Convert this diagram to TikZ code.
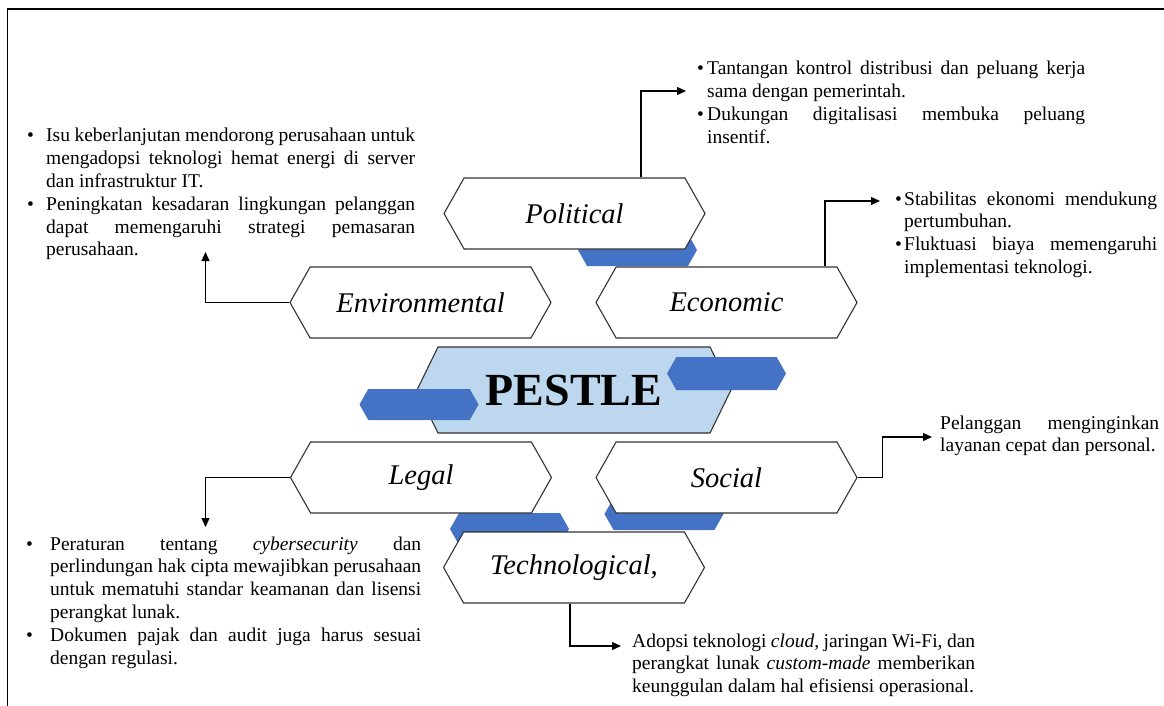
\documentclass[tikz,border=0pt]{standalone}
\usepackage{fontspec}
\setmainfont{Liberation Serif}
\usepackage{tikz}
\usetikzlibrary{shapes.symbols,arrows.meta}

\definecolor{pestlefill}{HTML}{BDD7EE}
\definecolor{accentblue}{HTML}{4472C4}

\newcommand{\bitem}[2]{\noindent\hangindent=#1\makebox[#1][l]{\textbullet}#2\par}

\begin{document}
\begin{tikzpicture}[x=1pt,y=-1pt,
    hex_node/.style={signal,signal to=west and east,signal pointer angle=121,draw=black!80,line width=1.1pt,fill=white,minimum width=261,minimum height=71,inner sep=0pt,font=\fontsize{28.5}{30}\selectfont\itshape},
    blue_hex/.style={signal,signal to=west and east,signal pointer angle=121,fill=accentblue,minimum width=119,minimum height=32,inner sep=0pt},
    note_text/.style={anchor=base west,inner sep=0pt,align=justify,font=\fontsize{19.5}{22.8}\selectfont},
    conn/.style={line width=1.2pt,-{Triangle[length=9pt,width=8pt]}}]
    \useasboundingbox (0,0) rectangle (1164,706);
    \draw[line width=1.2pt] (7.5,706) -- (7.5,9) -- (1164,9);

    % blue pieces behind the boxes
    \node[blue_hex] (b1) at (637.5,250) {};
    \node[blue_hex] (b2) at (509.5,529) {};
    \node[blue_hex] (b3) at (664,514) {};

    \node[hex_node] (pol) at (574.5,213.5) {Political};
    \node[hex_node] (env) at (420.5,302.5) {Environmental};
    \node[hex_node] (eco) at (726.5,302.5) {Economic};
    \node[hex_node] (leg) at (421,477.5) {Legal};
    \node[hex_node] (soc) at (726.5,477.5) {Social};
    \node[hex_node] (tec) at (574,567.5) {Technological,};

    \node[hex_node,signal pointer angle=128,fill=pestlefill,minimum width=314,minimum height=86,font=\fontsize{46}{48}\selectfont\bfseries] (pestle) at (574,390) {PESTLE};
    \node[blue_hex,minimum height=31] (b4) at (419,404.5) {};
    \node[blue_hex,minimum height=33] (b5) at (726.5,373.5) {};

    % notes
    \node[note_text,text width=388] (env_txt) at (27,142) {%
        \bitem{19pt}{Isu keberlanjutan mendorong perusahaan untuk\linebreak mengadopsi teknologi hemat energi di server\linebreak dan infrastruktur IT.}%
        \bitem{19pt}{Peningkatan kesadaran lingkungan pelanggan\linebreak dapat memengaruhi strategi pemasaran\linebreak perusahaan.}};
    \node[note_text,text width=388] (pol_txt) at (697,75) {%
        \bitem{10pt}{Tantangan kontrol distribusi dan peluang kerja\linebreak sama dengan pemerintah.}%
        \bitem{10pt}{Dukungan digitalisasi membuka peluang\linebreak insentif.}};
    \node[note_text,text width=262] (eco_txt) at (895,205) {%
        \bitem{9pt}{Stabilitas ekonomi mendukung\linebreak pertumbuhan.}%
        \bitem{9pt}{Fluktuasi biaya memengaruhi\linebreak implementasi teknologi.}};
    \node[note_text,text width=219] (soc_txt) at (940,429) {%
        Pelanggan menginginkan\linebreak layanan cepat dan personal.};
    \node[note_text,text width=395] (leg_txt) at (26,550) {%
        \bitem{24pt}{Peraturan tentang \textit{cybersecurity} dan\linebreak perlindungan hak cipta mewajibkan perusahaan\linebreak untuk mematuhi standar keamanan dan lisensi\linebreak perangkat lunak.}%
        \bitem{24pt}{Dokumen pajak dan audit juga harus sesuai\linebreak dengan regulasi.}};
    \node[note_text,text width=343] (tec_txt) at (632,647) {%
        Adopsi teknologi \textit{cloud}, jaringan Wi-Fi, dan\linebreak perangkat lunak \textit{custom-made} memberikan\linebreak keunggulan dalam hal efisiensi operasional.};

    % connectors
    \coordinate (pol_tip) at (686,91);
    \coordinate (eco_tip) at (880,201);
    \coordinate (env_tip) at (205.5,252);
    \coordinate (leg_tip) at (205.5,527);
    \coordinate (soc_tip) at (932,437);
    \coordinate (tec_tip) at (621,646);
    \draw[conn] ([xshift=66.5pt]pol.north) |- (pol_tip);
    \draw[conn] ([xshift=98.5pt]eco.north) |- (eco_tip);
    \draw[conn] (env.west) -| (env_tip);
    \draw[conn] (leg.west) -| (leg_tip);
    \draw[conn] (soc.east) -- ++(25,0) |- (soc_tip);
    \draw[conn] ([xshift=-4pt]tec.south) |- (tec_tip);
\end{tikzpicture}
\end{document}
